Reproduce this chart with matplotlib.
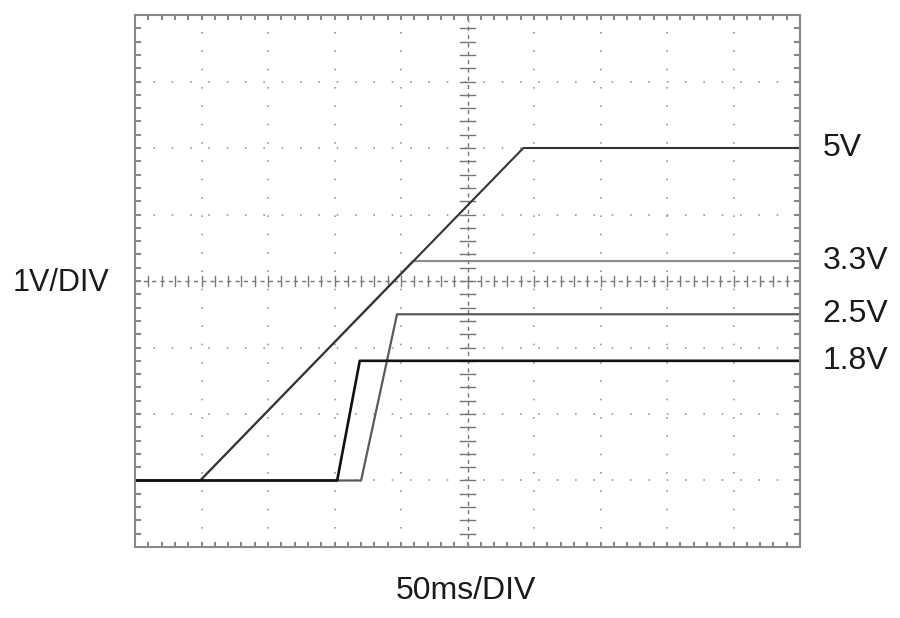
import matplotlib
matplotlib.use("Agg")
import matplotlib.pyplot as plt
import numpy as np

# scope traces, time in ms (50ms/DIV), volts (1V/DIV)
t_5v = [0, 49, 292, 500]
v_5v = [0, 0, 5.0, 5.0]
t_33v = [0, 49, 209, 500]
v_33v = [0, 0, 3.3, 3.3]
t_25v = [0, 170, 197, 500]
v_25v = [0, 0, 2.5, 2.5]
t_18v = [0, 152, 169, 500]
v_18v = [0, 0, 1.8, 1.8]

labels = ["5V", "3.3V", "2.5V", "1.8V"]
label_y = [5.0, 3.3, 2.5, 1.8]

plt.rcParams['font.family'] = ['Liberation Sans', 'DejaVu Sans']

fig = plt.figure(figsize=(9, 6.18), dpi=100)
ax = fig.add_axes([0.15, 0.1149, 0.7389, 0.8608])
ax.set_xlim(0, 500)
ax.set_ylim(-1, 7)

# graticule
grid_col = "#9a9a9a"
for x in np.arange(50, 500, 50):
    if x == 250:
        continue
    ax.plot([x, x], [-1, 7], color=grid_col, lw=1.2, ls=(0, (1, 10)))
for y in np.arange(0, 7, 1):
    if y == 3:
        continue
    ax.plot([0, 500], [y, y], color=grid_col, lw=1.2, ls=(0, (1, 10)))

# centre crosshair with ticks
ax.plot([250, 250], [-1, 7], color="#777777", lw=1.0, ls=(0, (3, 3)))
ax.plot([0, 500], [3, 3], color="#777777", lw=1.0, ls=(0, (3, 3)))
for x in np.arange(10, 500, 10):
    ax.plot([x, x], [2.93, 3.07], color="#777777", lw=1.0)
for y in np.arange(-0.8, 7, 0.2):
    ax.plot([244, 256], [y, y], color="#777777", lw=1.0)

# frame ticks
for x in np.arange(10, 500, 10):
    ax.plot([x, x], [7, 6.94], color="#888888", lw=1.5)
    ax.plot([x, x], [-1, -0.94], color="#888888", lw=1.5)
for y in np.arange(-0.8, 7, 0.2):
    ax.plot([0, 4], [y, y], color="#888888", lw=1.5)
    ax.plot([500, 496], [y, y], color="#888888", lw=1.5)

# traces
ax.plot(t_33v, v_33v, color="#8a8a8a", lw=1.5)
ax.plot(t_25v, v_25v, color="#5a5a5a", lw=1.6)
ax.plot(t_5v, v_5v, color="#333333", lw=1.5)
ax.plot(t_18v, v_18v, color="#111111", lw=1.9)

for s in ax.spines.values():
    s.set_color("#888888")
    s.set_linewidth(1.5)
ax.set_xticks([])
ax.set_yticks([])

for lab, y in zip(labels, label_y):
    ax.text(517, y, lab, fontsize=23, va="center", ha="left", color="#1a1a1a")

fig.text(0.068, 0.542, "1V/DIV", fontsize=22, ha="center", va="center", color="#1a1a1a")
fig.text(0.518, 0.043, "50ms/DIV", fontsize=23, ha="center", va="center", color="#1a1a1a")

fig.savefig("out.png", dpi=100)
